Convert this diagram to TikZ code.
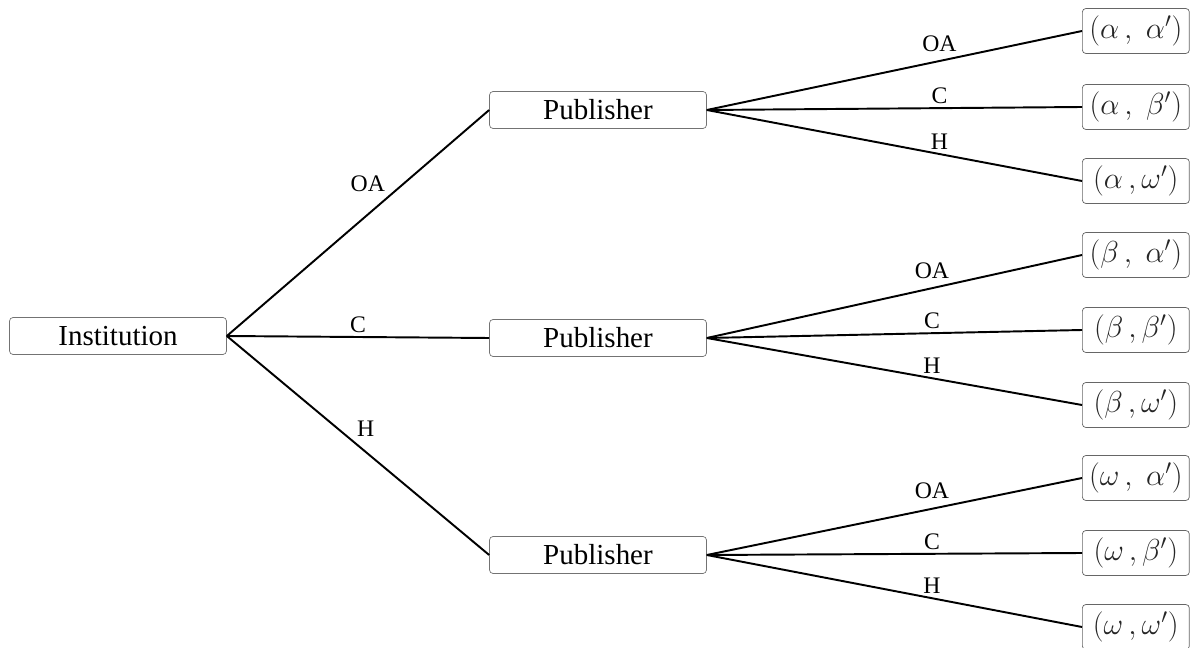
\documentclass[tikz,border=0pt]{standalone}
\usepackage{fontspec}
\setmainfont{Liberation Serif}
\usepackage{tikz}
\usetikzlibrary{positioning}

\begin{document}
\begin{tikzpicture}[x=0.02cm,y=-0.02cm]
	\tikzstyle{player}=[rectangle, draw=black!55, rounded corners=2pt, fill=white,
	text centered, text=black, minimum width=4.34cm, minimum height=0.74cm,
	font=\fontsize{16.5}{20}\selectfont]
	\tikzstyle{outcome}=[rectangle, draw=black!60, rounded corners=2pt, fill=white,
	text=black!85, minimum width=2.14cm, minimum height=0.9cm, inner sep=1pt,
	font=\fontsize{18.5}{22}\selectfont]
	\tikzstyle{line}=[-, line width=1.1pt]
	\tikzstyle{choice}=[font=\fontsize{13.5}{16}\selectfont, inner sep=2pt]
	\useasboundingbox (0,0) rectangle (1190,648);
	\node (Institution) [player] at (118,336) {Institution};
	\node (PubOA) [player] at (598,110) {Publisher};
	\node (PubC) [player] at (598,338) {Publisher};
	\node (PubH) [player] at (598,555) {Publisher};
	
	\node (AA) [outcome, anchor=west] at (1082,31) {$(\alpha\,,\;\alpha')$};
	\node (AB) [outcome, anchor=west] at (1082,107) {$(\alpha\,,\;\beta')$};
	\node (AW) [outcome, anchor=west] at (1082,181) {$(\alpha\,,\omega')$};
	\node (BA) [outcome, anchor=west] at (1082,255) {$(\beta\,,\;\alpha')$};
	\node (BB) [outcome, anchor=west] at (1082,330) {$(\beta\,,\beta')$};
	\node (BW) [outcome, anchor=west] at (1082,405) {$(\beta\,,\omega')$};
	\node (WA) [outcome, anchor=west] at (1082,478) {$(\omega\,,\;\alpha')$};
	\node (WB) [outcome, anchor=west] at (1082,553) {$(\omega\,,\beta')$};
	\node (WW) [outcome, anchor=west] at (1082,627) {$(\omega\,,\omega')$};
	
	\draw[line] (Institution.east) -- node[choice, pos=0.62, above left] {OA} (PubOA.west);
	\draw[line] (Institution.east) -- node[choice, pos=0.5, above] {C} (PubC.west);
	\draw[line] (Institution.east) -- node[choice, pos=0.48, above right] {H} (PubH.west);
	
	\draw[line] (PubOA.east) -- node[choice, pos=0.62, above=3pt] {OA} (AA.west);
	\draw[line] (PubOA.east) -- node[choice, pos=0.62, above] {C} (AB.west);
	\draw[line] (PubOA.east) -- node[choice, pos=0.62, above] {H} (AW.west);
	\draw[line] (PubC.east) -- node[choice, pos=0.6, above=3pt] {OA} (BA.west);
	\draw[line] (PubC.east) -- node[choice, pos=0.6, above] {C} (BB.west);
	\draw[line] (PubC.east) -- node[choice, pos=0.6, above] {H} (BW.west);
	\draw[line] (PubH.east) -- node[choice, pos=0.6, above=3pt] {OA} (WA.west);
	\draw[line] (PubH.east) -- node[choice, pos=0.6, above] {C} (WB.west);
	\draw[line] (PubH.east) -- node[choice, pos=0.6, above] {H} (WW.west);
\end{tikzpicture}
\end{document}
